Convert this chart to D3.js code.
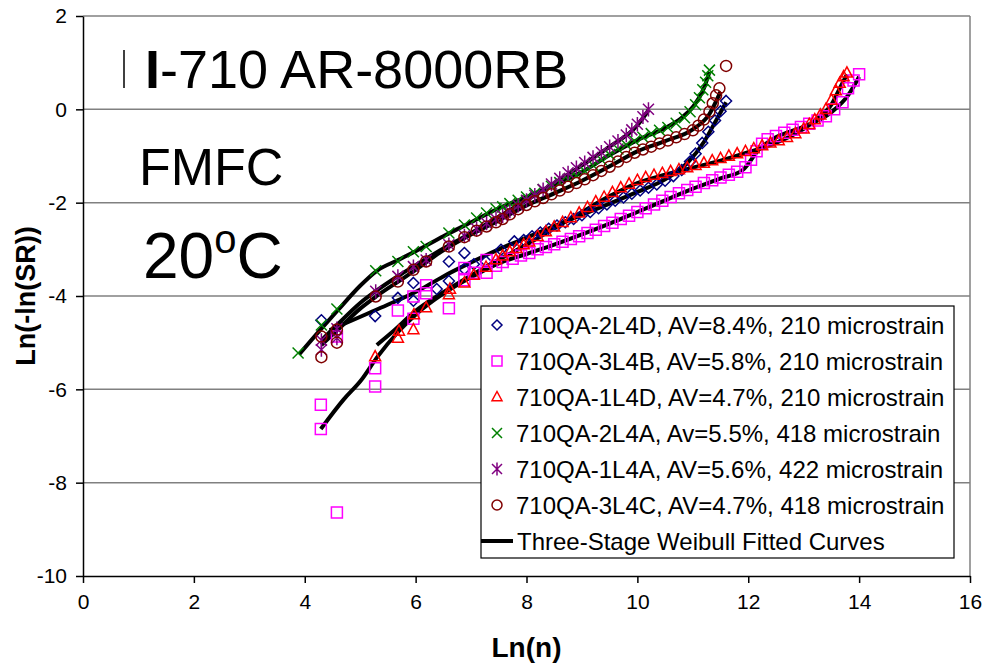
<!DOCTYPE html>
<html>
<head>
<meta charset="utf-8">
<title>I-710 AR-8000RB FMFC 20C</title>
<script src="https://d3js.org/d3.v7.min.js"></script>
<style>
  body { margin: 0; background: #fff; }
  svg text { font-family: "Liberation Sans", Arial, sans-serif; }
</style>
</head>
<body>
<svg id="chart" width="989" height="665"></svg>
<script>

// Axis ticks
const xTicks = [0, 2, 4, 6, 8, 10, 12, 14, 16];
const yTicks = [-10, -8, -6, -4, -2, 0, 2];

// Legend labels
const seriesLabels = [
  "710QA-2L4D, AV=8.4%, 210 microstrain",
  "710QA-3L4B, AV=5.8%, 210 microstrain",
  "710QA-1L4D, AV=4.7%, 210 microstrain",
  "710QA-2L4A, Av=5.5%, 418 microstrain",
  "710QA-1L4A, AV=5.6%, 422 microstrain",
  "710QA-3L4C, AV=4.7%, 418 microstrain"
];
const fitLabel = "Three-Stage Weibull Fitted Curves";

// Measured points [Ln(n), Ln(-ln(SR))]
const s2L4D = [[4.30,-4.52],[5.27,-4.43],[5.68,-4.04],[5.96,-3.72],[5.96,-4.10],[6.38,-3.85],[6.60,-3.26],[6.60,-3.68],
  [6.88,-3.08],[6.88,-3.42],[7.05,-3.32],[7.27,-3.26],[7.54,-3.01],[7.78,-2.83],[7.95,-2.80],[8.1,-2.72],[8.25,-2.64],
  [8.4,-2.56],[8.55,-2.49],[8.7,-2.42],[8.85,-2.35],[9.0,-2.27],[9.15,-2.2],[9.3,-2.12],[9.45,-2.04],[9.6,-1.96],
  [9.75,-1.89],[9.9,-1.81],[10.05,-1.74],[10.2,-1.68],[10.35,-1.61],[10.5,-1.53],[10.65,-1.43],[10.8,-1.30],
  [10.95,-1.12],[11.05,-0.95],[11.17,-0.72],[11.28,-0.48],[11.4,-0.24],[11.5,-0.04],[11.6,0.18]];

const s3L4B = [[4.29,-6.85],[4.29,-6.33],[4.58,-8.64],[4.58,-4.87],[5.27,-5.94],[5.27,-5.55],[5.68,-4.31],
  [5.96,-4.49],[5.96,-4.01],[6.19,-3.77],[6.19,-3.94],[6.60,-4.26],[6.88,-3.40],[6.88,-3.66],[7.05,-3.50],
  [7.28,-3.23],[7.28,-3.50],[7.45,-3.35],[7.57,-3.27],[7.75,-3.20],[7.9,-3.13],[8.05,-3.08],[8.2,-3.0],
  [8.35,-2.95],[8.5,-2.89],[8.65,-2.84],[8.8,-2.78],[8.95,-2.72],[9.1,-2.65],[9.25,-2.58],[9.4,-2.5],
  [9.55,-2.43],[9.7,-2.35],[9.85,-2.28],[10.0,-2.2],[10.15,-2.12],[10.3,-2.04],[10.45,-1.96],[10.6,-1.88],
  [10.75,-1.8],[10.9,-1.73],[11.05,-1.66],[11.2,-1.58],[11.35,-1.52],[11.5,-1.46],[11.65,-1.4],[11.8,-1.34],
  [11.95,-1.24],[12.05,-1.08],[12.15,-0.9],[12.25,-0.74],[12.35,-0.64],[12.5,-0.57],[12.65,-0.5],[12.8,-0.44],
  [12.95,-0.38],[13.1,-0.31],[13.25,-0.24],[13.4,-0.15],[13.55,0.0],[13.7,0.15],[13.8,0.45],[13.9,0.62],[14.0,0.75]];

const s1L4D = [[5.27,-5.30],[5.68,-4.90],[5.70,-4.75],[5.96,-4.72],[5.97,-4.40],[6.19,-4.25],[6.60,-3.97],
  [6.62,-3.85],[6.88,-3.72],[7.05,-3.55],[7.27,-3.38],[7.45,-3.22],[7.57,-3.14],[7.7,-3.05],[7.82,-2.98],
  [7.95,-2.9],[8.05,-2.84],[8.2,-2.72],[8.35,-2.62],[8.5,-2.52],[8.65,-2.42],[8.8,-2.32],[8.95,-2.22],
  [9.1,-2.1],[9.25,-1.98],[9.4,-1.88],[9.55,-1.78],[9.7,-1.68],[9.85,-1.6],[10.0,-1.52],[10.15,-1.46],
  [10.3,-1.41],[10.45,-1.37],[10.6,-1.33],[10.75,-1.29],[10.9,-1.25],[11.05,-1.2],[11.2,-1.15],[11.35,-1.1],
  [11.5,-1.05],[11.65,-1.0],[11.8,-0.95],[11.95,-0.9],[12.1,-0.84],[12.25,-0.78],[12.4,-0.72],[12.55,-0.67],
  [12.7,-0.6],[12.85,-0.52],[13.0,-0.42],[13.1,-0.32],[13.2,-0.22],[13.3,-0.12],[13.4,0.0],[13.5,0.2],
  [13.58,0.4],[13.65,0.56],[13.72,0.7],[13.78,0.78]];

const s2L4A = [[3.88,-5.22],[4.30,-4.62],[4.58,-4.28],[5.28,-3.46],[5.68,-3.26],[5.96,-3.05],[6.19,-2.94],
  [6.60,-2.65],[6.88,-2.48],[7.1,-2.33],[7.28,-2.22],[7.45,-2.13],[7.57,-2.09],[7.7,-2.02],[7.85,-1.95],
  [8.0,-1.88],[8.15,-1.8],[8.3,-1.72],[8.45,-1.65],[8.6,-1.57],[8.75,-1.5],[8.9,-1.42],[9.05,-1.32],
  [9.2,-1.2],[9.35,-1.08],[9.5,-0.97],[9.65,-0.85],[9.8,-0.76],[9.95,-0.68],[10.1,-0.6],[10.25,-0.52],
  [10.4,-0.45],[10.55,-0.39],[10.7,-0.3],[10.85,-0.18],[10.95,-0.05],[11.05,0.1],[11.12,0.25],[11.18,0.42],
  [11.23,0.58],[11.27,0.72],[11.3,0.84]];

const s1L4A = [[4.30,-5.15],[4.30,-4.95],[4.58,-4.90],[4.58,-4.70],[5.28,-3.90],[5.68,-3.58],[5.96,-3.37],
  [6.19,-3.23],[6.60,-2.90],[6.88,-2.71],[7.1,-2.56],[7.28,-2.44],[7.45,-2.35],[7.57,-2.28],[7.7,-2.18],
  [7.85,-2.06],[8.0,-1.95],[8.15,-1.84],[8.3,-1.72],[8.45,-1.6],[8.6,-1.48],[8.75,-1.36],[8.9,-1.25],
  [9.05,-1.14],[9.2,-1.03],[9.35,-0.92],[9.5,-0.8],[9.65,-0.68],[9.8,-0.55],[9.9,-0.44],[10.0,-0.32],
  [10.1,-0.16],[10.2,0.0]];

const s3L4C = [[4.30,-5.31],[4.30,-4.87],[4.58,-4.72],[4.58,-5.00],[5.28,-4.01],[5.68,-3.69],[5.96,-3.44],
  [6.19,-3.26],[6.60,-2.94],[6.88,-2.74],[7.1,-2.6],[7.28,-2.51],[7.45,-2.42],[7.57,-2.35],[7.7,-2.25],
  [7.85,-2.14],[8.0,-2.05],[8.15,-1.97],[8.3,-1.9],[8.45,-1.82],[8.6,-1.74],[8.75,-1.66],[8.9,-1.58],
  [9.05,-1.5],[9.2,-1.41],[9.35,-1.32],[9.5,-1.23],[9.65,-1.12],[9.8,-1.02],[9.95,-0.93],[10.1,-0.86],
  [10.25,-0.8],[10.4,-0.73],[10.55,-0.67],[10.7,-0.6],[10.85,-0.53],[11.0,-0.45],[11.1,-0.35],[11.2,-0.22],
  [11.3,-0.05],[11.36,0.13],[11.42,0.3],[11.48,0.45],[11.6,0.93]];

// Three-stage Weibull fitted curves
const fit2L4D = [[4.45,-4.73],[5.28,-4.3],[6.07,-3.87],[6.5,-3.58],[7.0,-3.28],[7.5,-3.0],[8.0,-2.75],[8.5,-2.5],
  [9.0,-2.26],[9.5,-2.02],[10.0,-1.77],[10.5,-1.5],[10.9,-1.15],[11.2,-0.7],[11.4,-0.28],[11.6,0.15]];
const fit3L4B = [[4.29,-6.85],[4.7,-6.22],[5.02,-5.8],[5.3,-5.32],[5.7,-4.75],[6.0,-4.4],[6.5,-3.95],[7.0,-3.6],
  [7.5,-3.3],[8.0,-3.1],[8.5,-2.9],[9.0,-2.68],[9.5,-2.45],[10.0,-2.2],[10.5,-1.95],[11.0,-1.7],[11.5,-1.48],
  [11.9,-1.3],[12.2,-0.85],[12.5,-0.6],[13.0,-0.37],[13.5,-0.06],[13.8,0.3],[14.0,0.7]];
const fit1L4D = [[5.3,-5.05],[5.6,-4.75],[6.0,-4.32],[6.5,-3.92],[7.0,-3.56],[7.5,-3.22],[8.0,-2.9],[8.5,-2.55],
  [9.0,-2.2],[9.5,-1.86],[10.0,-1.58],[10.5,-1.4],[11.0,-1.25],[11.5,-1.1],[12.0,-0.92],[12.5,-0.72],
  [13.0,-0.42],[13.3,-0.15],[13.5,0.1],[13.65,0.45],[13.78,0.75]];
const fit2L4A = [[3.9,-5.25],[4.3,-4.7],[4.6,-4.3],[5.0,-3.78],[5.3,-3.46],[5.7,-3.22],[6.0,-3.04],[6.5,-2.72],
  [7.0,-2.42],[7.5,-2.12],[8.0,-1.88],[8.5,-1.62],[9.0,-1.34],[9.5,-0.98],[10.0,-0.66],[10.5,-0.4],
  [10.8,-0.18],[11.0,0.05],[11.2,0.45],[11.3,0.8]];
const fit1L4A = [[4.3,-4.95],[4.6,-4.6],[5.0,-4.15],[5.3,-3.88],[5.7,-3.56],[6.0,-3.34],[6.5,-2.98],[7.0,-2.65],
  [7.5,-2.3],[8.0,-1.95],[8.5,-1.58],[9.0,-1.2],[9.5,-0.8],[10.0,-0.34],[10.2,-0.02]];
const fit3L4C = [[4.3,-5.05],[4.6,-4.72],[5.0,-4.27],[5.3,-4.0],[5.7,-3.68],[6.0,-3.44],[6.5,-3.02],[7.0,-2.68],
  [7.5,-2.38],[8.0,-2.06],[8.5,-1.8],[9.0,-1.53],[9.5,-1.22],[10.0,-0.9],[10.5,-0.68],[11.0,-0.43],
  [11.3,-0.1],[11.5,0.38]];

const seriesData = [s2L4D, s3L4B, s1L4D, s2L4A, s1L4A, s3L4C];
const fitData = [fit2L4D, fit3L4B, fit1L4D, fit2L4A, fit1L4A, fit3L4C];
const seriesColors = ["#000080", "#ff00ff", "#ff0000", "#008000", "#800080", "#800000"];
const seriesMarkers = ["diamond", "square", "triangle", "cross", "star", "circle"];

const svg = d3.select("#chart");

const x = d3.scaleLinear().domain([0, 16]).range([83, 970]);
const y = d3.scaleLinear().domain([-10, 2]).range([576, 16]);

// Marker paths centred on 0,0
function markerPath(type, r) {
  switch (type) {
    case "diamond": return `M0,${-r}L${r},0L0,${r}L${-r},0Z`;
    case "square": return `M${-r},${-r}H${r}V${r}H${-r}Z`;
    case "triangle": return `M0,${-r * 1.1}L${r},${r * 0.75}L${-r},${r * 0.75}Z`;
    case "cross": return `M${-r},${-r}L${r},${r}M${-r},${r}L${r},${-r}`;
    case "star": return `M${-r},${-r}L${r},${r}M${-r},${r}L${r},${-r}M0,${-r * 1.3}V${r * 1.3}`;
    case "circle": return `M${r},0A${r},${r} 0 1,1 ${-r},0A${r},${r} 0 1,1 ${r},0Z`;
  }
}

// Gridlines
svg.append("g")
  .selectAll("line")
  .data(yTicks.filter(d => d > -10))
  .join("line")
    .attr("x1", x(0))
    .attr("x2", x(16))
    .attr("y1", d => y(d))
    .attr("y2", d => y(d))
    .attr("stroke", "#808080")
    .attr("stroke-width", 1.5);

// Right border of plot area
svg.append("line")
    .attr("x1", x(16)).attr("x2", x(16))
    .attr("y1", y(2)).attr("y2", y(-10))
    .attr("stroke", "#808080")
    .attr("stroke-width", 1.5);

// Axes (plain hyphen for negatives, like the original)
const fmt = d => String(d);

const xAxis = svg.append("g")
    .attr("transform", `translate(0,${y(-10)})`)
    .call(d3.axisBottom(x).tickValues(xTicks).tickFormat(fmt).tickSize(7).tickSizeOuter(0).tickPadding(11));

const yAxis = svg.append("g")
    .attr("transform", `translate(${x(0)},0)`)
    .call(d3.axisLeft(y).tickValues(yTicks).tickFormat(fmt).tickSize(7).tickSizeOuter(0).tickPadding(9));

[xAxis, yAxis].forEach(a => {
  a.select(".domain").attr("stroke", "#000").attr("stroke-width", 1.5);
  a.selectAll(".tick line").attr("stroke", "#000").attr("stroke-width", 1.5);
  a.selectAll("text")
      .attr("fill", "#000")
      .style("font-size", "21px")
      .style("font-family", "'Liberation Sans', Arial, sans-serif");
});

// Axis titles
svg.append("text")
    .attr("x", x(8))
    .attr("y", 657)
    .attr("text-anchor", "middle")
    .style("font-size", "28px")
    .style("font-weight", "bold")
    .text("Ln(n)");

svg.append("text")
    .attr("transform", `translate(35,${y(-4)})rotate(-90)`)
    .attr("text-anchor", "middle")
    .style("font-size", "27px")
    .style("font-weight", "bold")
    .text("Ln(-ln(SR))");

// Fitted curves
const line = d3.line()
    .x(d => x(d[0]))
    .y(d => y(d[1]))
    .curve(d3.curveMonotoneX);

svg.append("g")
  .selectAll("path")
  .data(fitData)
  .join("path")
    .attr("d", line)
    .attr("fill", "none")
    .attr("stroke", "#000")
    .attr("stroke-width", 4);

// Measured points
seriesData.forEach((data, i) => {
  svg.append("g")
    .selectAll("path")
    .data(data)
    .join("path")
      .attr("transform", d => `translate(${x(d[0])},${y(d[1])})`)
      .attr("d", markerPath(seriesMarkers[i], 5.5))
      .attr("fill", "none")
      .attr("stroke", seriesColors[i])
      .attr("stroke-width", 1.5);
});

// Chart annotations
svg.append("line")
    .attr("x1", 124).attr("x2", 124)
    .attr("y1", 50).attr("y2", 88)
    .attr("stroke", "#000")
    .attr("stroke-width", 1.5);

const title = svg.append("text")
    .attr("x", 145)
    .attr("y", 88)
    .style("font-size", "54px");
title.append("tspan").style("font-weight", "bold").text("I");
title.append("tspan").text("-710 AR-8000RB");

svg.append("text")
    .attr("x", 139)
    .attr("y", 185)
    .style("font-size", "52px")
    .text("FMFC");

const temp = svg.append("text")
    .attr("x", 143)
    .attr("y", 278)
    .style("font-size", "64px");
temp.append("tspan").text("20");
temp.append("tspan").attr("dy", -25).style("font-size", "40px").text("o");
temp.append("tspan").attr("dy", 25).text("C");

// Legend
const legend = svg.append("g").attr("transform", "translate(481,306)");

legend.append("rect")
    .attr("width", 473)
    .attr("height", 252)
    .attr("fill", "#fff")
    .attr("stroke", "#000")
    .attr("stroke-width", 1.2);

const rowY = i => 19 + i * 36;

legend.selectAll(".item")
  .data(seriesLabels)
  .join("g")
    .attr("class", "item")
    .attr("transform", (d, i) => `translate(0,${rowY(i)})`)
    .each(function(d, i) {
      const g = d3.select(this);
      g.append("path")
          .attr("transform", "translate(16,0)")
          .attr("d", markerPath(seriesMarkers[i], 5))
          .attr("fill", "none")
          .attr("stroke", seriesColors[i])
          .attr("stroke-width", 1.5);
      g.append("text")
          .attr("x", 35)
          .attr("y", 8.5)
          .style("font-size", "24px")
          .text(d);
    });

const fitRow = legend.append("g").attr("transform", `translate(0,${rowY(6)})`);
fitRow.append("line")
    .attr("x1", 0).attr("x2", 32)
    .attr("stroke", "#000")
    .attr("stroke-width", 4);
fitRow.append("text")
    .attr("x", 36)
    .attr("y", 8.5)
    .style("font-size", "24px")
    .text(fitLabel);

</script>
</body>
</html>
